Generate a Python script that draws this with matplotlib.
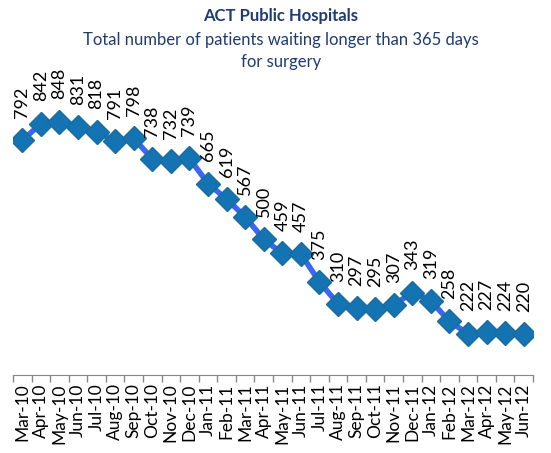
import matplotlib.pyplot as plt
import numpy as np

plt.rcParams["font.family"] = ["Lato", "DejaVu Sans"]

# data
months = ["Mar-10", "Apr-10", "May-10", "Jun-10", "Jul-10", "Aug-10", "Sep-10",
          "Oct-10", "Nov-10", "Dec-10", "Jan-11", "Feb-11", "Mar-11", "Apr-11",
          "May-11", "Jun-11", "Jul-11", "Aug-11", "Sep-11", "Oct-11", "Nov-11",
          "Dec-11", "Jan-12", "Feb-12", "Mar-12", "Apr-12", "May-12", "Jun-12"]
waiting = [792, 842, 848, 831, 818, 791, 798, 738, 732, 739, 665, 619, 567, 500,
           459, 457, 375, 310, 297, 295, 307, 343, 319, 258, 222, 227, 224, 220]

navy = "#1F3B73"

fig = plt.figure(figsize=(5.51, 4.53), dpi=100)
ax = fig.add_axes([13/551, 1 - 375/453, 520/551, 305/453])

x = np.arange(len(months))
ax.plot(x, waiting, color="#3A66F2", linewidth=4, zorder=2)
ax.plot(x, waiting, linestyle="none", marker="D", markersize=12,
        markerfacecolor="#1473B3", markeredgecolor="#1A6C9C", markeredgewidth=1, zorder=3)

for xi, v in zip(x, waiting):
    ax.annotate(str(v), (xi, v), xytext=(0, 16), textcoords="offset points",
                rotation=90, ha="center", va="bottom", fontsize=13, color="black")

ax.set_xlim(-0.5, len(months) - 0.5)
ax.set_ylim(100, 1000)

# category axis
ax.set_xticks(x)
ax.set_xticklabels(months, rotation=90, fontsize=12.5)
ax.set_xticks(np.arange(len(months) + 1) - 0.5, minor=True)
ax.tick_params(axis="x", which="major", length=0, pad=6)
ax.tick_params(axis="x", which="minor", length=5, color="#888888", width=1)
ax.set_yticks([])
for side in ["top", "right", "left"]:
    ax.spines[side].set_visible(False)
ax.spines["bottom"].set_color("#888888")

fig.text(0.51, 1 - 16/453, "ACT Public Hospitals", ha="center", va="center",
         fontsize=12, fontweight="bold", color=navy)
fig.text(0.51, 1 - 40/453, "Total number of patients waiting longer than 365 days",
         ha="center", va="center", fontsize=12, color=navy)
fig.text(0.51, 1 - 62/453, "for surgery", ha="center", va="center",
         fontsize=12, color=navy)

fig.savefig("out.png", dpi=100)
